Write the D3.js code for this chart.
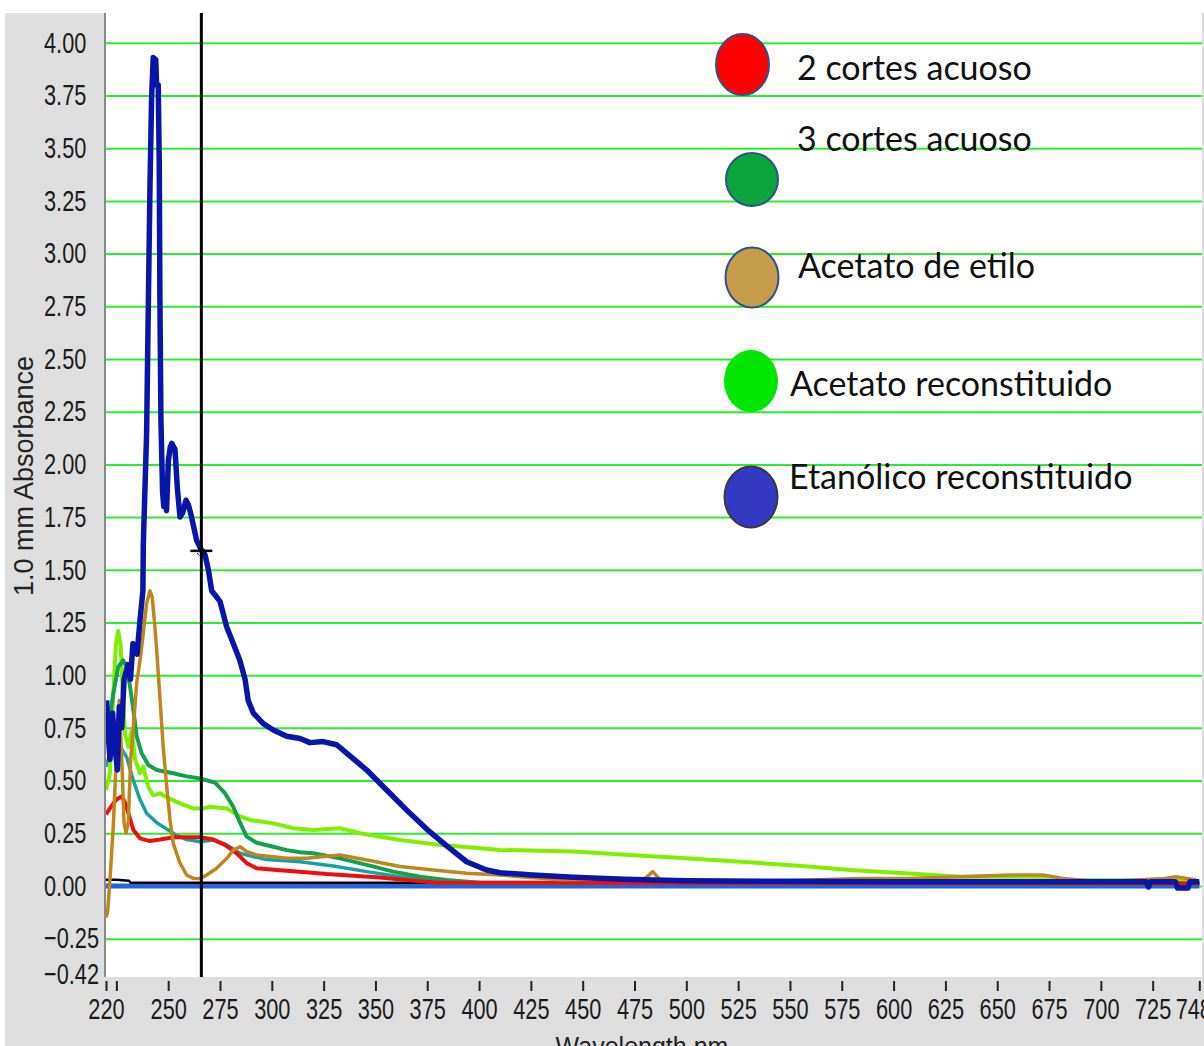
<!DOCTYPE html>
<html>
<head>
<meta charset="utf-8">
<script src="https://cdn.jsdelivr.net/npm/d3@7"></script>
<style>
  body { margin: 0; background: #fff; }
  svg { display: block; }
</style>
</head>
<body>
<div id="chart"></div>
<script>
// tick labels
let wavelengthTicks = [220, 225, 250, 275, 300, 325, 350, 375, 400, 425, 450, 475, 500, 525,
                       550, 575, 600, 625, 650, 675, 700, 725, 747.5];
let absorbanceTicks = [-0.42, -0.25, 0, 0.25, 0.5, 0.75, 1, 1.25, 1.5, 1.75, 2, 2.25, 2.5,
                       2.75, 3, 3.25, 3.5, 3.75, 4];
let gridValues = [-0.25, 0, 0.25, 0.5, 0.75, 1, 1.25, 1.5, 1.75, 2, 2.25, 2.5, 2.75, 3,
                  3.25, 3.5, 3.75, 4];

// spectra: [wavelength nm, absorbance]
let cortes2 = [[220,0.34],[222,0.37],[225,0.41],[227.6,0.424],[229,0.40],[230.8,0.345],[233.2,0.266],
  [236.4,0.226],[241.2,0.213],[246.1,0.22],[252.5,0.231],[265.4,0.231],[271.8,0.22],[277.4,0.195],
  [283.1,0.155],[287.9,0.108],[292.7,0.084],[302.4,0.076],[313.6,0.068],[326.5,0.057],[339.3,0.049],
  [352.2,0.04],[365.1,0.028],[380,0.015],[747.5,0.012]];

let tealTrace = [[220,0.566],[222,0.63],[224.3,0.68],[227,0.66],[230,0.61],[233.2,0.50],[236.4,0.41],
  [239.6,0.345],[244.5,0.30],[249.3,0.27],[254.1,0.24],[258.9,0.22],[265.4,0.21],[271.8,0.218],
  [278.2,0.195],[284.7,0.155],[291.1,0.139],[297.5,0.125],[313.6,0.115],[329.7,0.095],[345.8,0.068],
  [361.9,0.044],[377.9,0.028],[390.8,0.015],[747.5,0.012]];

let cortes3 = [[220,0.69],[223.5,0.91],[225.9,1.04],[228.3,1.07],[230,1.04],[231.6,0.945],[233.2,0.835],
  [234.8,0.71],[237.2,0.63],[240.4,0.574],[244.5,0.55],[252.5,0.535],[258.9,0.52],[265.4,0.51],
  [272.6,0.49],[277.4,0.44],[281.4,0.376],[284.7,0.30],[287.9,0.234],[292.7,0.205],[300.7,0.186],
  [307.2,0.17],[313.6,0.16],[320,0.155],[332.9,0.131],[345.8,0.10],[358.6,0.068],[371.5,0.044],
  [384.4,0.028],[400.5,0.015],[747.5,0.012]];

let acetatoEtilo = [[220,-0.15],[220.8,-0.12],[221.9,0.03],[223.5,0.28],[225.2,0.66],[226.4,0.88],
  [227.6,0.60],[228.7,0.30],[229.7,0.25],[230.8,0.31],[231.9,0.60],[233.2,0.756],[234.8,0.96],
  [236.4,1.07],[238,1.20],[239.6,1.34],[241.2,1.40],[242.3,1.37],[243.6,1.23],[244.8,1.07],
  [246.1,0.88],[247.6,0.66],[249.3,0.47],[250.9,0.313],[252.5,0.20],[255.7,0.108],[258.9,0.052],
  [262.1,0.036],[265.4,0.036],[268.6,0.052],[273.4,0.084],[278.2,0.13],[281.4,0.17],[284.7,0.186],
  [287.9,0.163],[292.7,0.147],[300.7,0.139],[307.2,0.131],[316.8,0.131],[332.9,0.147],[345.8,0.123],
  [361.9,0.092],[377.9,0.076],[394,0.06],[410.1,0.052],[439,0.03],[480,0.035],[483.8,0.068],
  [487.3,0.03],[530.8,0.02],[583.3,0.036],[608,0.036],[632.6,0.044],[657.2,0.052],[672.1,0.052],
  [681.8,0.036],[699.6,0.02],[731,0.036],[736.1,0.044],[746,0.028]];

let acetatoRec = [[220,0.455],[221.9,0.535],[223.5,0.91],[224.8,1.15],[225.9,1.21],[227.1,1.135],
  [228.1,0.91],[229.2,0.72],[230.8,0.66],[232.4,0.74],[234,0.6],[236.4,0.535],[238,0.566],
  [240.4,0.47],[242.8,0.43],[246.1,0.44],[249.3,0.42],[255.7,0.392],[262.1,0.368],[266.9,0.368],
  [270.2,0.376],[278.2,0.368],[284.7,0.33],[289.5,0.313],[300.7,0.297],[310.4,0.274],[320,0.266],
  [332.9,0.274],[342.6,0.25],[361.9,0.218],[381.2,0.195],[410.1,0.171],[445.6,0.163],[472.7,0.147],
  [499.7,0.131],[534.1,0.11],[558.7,0.092],[579,0.076],[611.2,0.057],[632.1,0.044],[675.5,0.044],
  [683.6,0.028],[746,0.025]];

let etanolicoRec = [[220.3,0.88],[221.1,0.72],[221.9,0.60],[223.2,0.82],[224.3,0.66],[225.5,0.55],
  [226.4,0.85],[227.6,0.75],[228.7,0.98],[230.6,1.05],[231.8,0.98],[233,1.15],[235,1.10],[236.4,1.26],
  [237.8,1.40],[238,1.62],[239.6,2.15],[240.4,2.74],[241.2,3.31],[242,3.74],[242.8,3.93],[244,3.92],
  [244.4,3.80],[245.2,3.80],[245.7,3.43],[246,2.80],[246.5,2.21],[247.3,1.87],[247.9,1.80],
  [248.5,1.85],[249.2,1.78],[250.1,2.02],[251,2.08],[251.7,2.10],[253.3,2.07],[254.4,1.89],
  [255.7,1.75],[257,1.77],[258.6,1.83],[259.7,1.81],[260.8,1.77],[262.4,1.70],[263.7,1.64],
  [266.2,1.59],[267.8,1.57],[269.4,1.50],[271,1.40],[272.6,1.38],[275,1.35],[278.2,1.23],
  [281.4,1.15],[284.6,1.07],[287.1,0.98],[288.6,0.88],[291.1,0.82],[295.9,0.77],[300.7,0.74],
  [307.2,0.71],[313.6,0.70],[318.4,0.68],[324.8,0.685],[331.3,0.67],[336.1,0.63],[345.8,0.55],
  [355.4,0.455],[365.1,0.36],[374.7,0.27],[384.4,0.19],[394,0.115],[403.6,0.076],[410.1,0.063],
  [425.8,0.052],[445.5,0.041],[470.1,0.032],[499.6,0.025],[544,0.022],[600,0.02],[722,0.02],
  [723,-0.005],[724,0.02],[736,0.02],[737,-0.01],[742,-0.01],[743,0.02],[747.5,0.02]];

let baselineBlack = [[220,0.03],[225,0.03],[231,0.025],[232,0.015],[747.5,0.015]];
let baselineBlue = [[220,0],[747.5,0]];

let cursorWavelength = 266;
let cursorValue = 1.585;

// legend
let legendLabels = ["2 cortes acuoso", "3 cortes acuoso", "Acetato de etilo",
                    "Acetato reconstituido", "Etanólico reconstituido"];
let legendFills = ["#ff0000", "#0aa63c", "#c59d48", "#00e600", "#3339c2"];

// ---- drawing ----
let width = 1204, height = 1046;
let plot = {left: 106, right: 1202, top: 13, bottom: 977};

let svg = d3.select("#chart").append("svg")
    .attr("width", width)
    .attr("height", height);

let xScale = d3.scaleLinear().domain([220, 747.5]).range([106, 1199.3]);
let yScale = d3.scaleLinear().domain([-0.42, 4]).range([974.5, 42.8]);

// grey frame and white plot area
svg.append("rect").attr("x", 5).attr("y", plot.top)
    .attr("width", width - 5).attr("height", height - plot.top).attr("fill", "#dedede");
svg.append("rect").attr("x", plot.left).attr("y", 0)
    .attr("width", plot.right - plot.left).attr("height", plot.bottom).attr("fill", "#fff");

svg.append("defs").append("clipPath").attr("id", "plotclip")
  .append("rect").attr("x", plot.left).attr("y", plot.top)
    .attr("width", plot.right - plot.left).attr("height", plot.bottom - plot.top);

// green grid
let grid = svg.append("g")
    .attr("transform", "translate(" + plot.left + ",0)")
    .call(d3.axisLeft(yScale).tickValues(gridValues).tickSize(-(plot.right - plot.left)).tickFormat(""));
grid.select(".domain").remove();
grid.selectAll("line").attr("stroke", "#2cef2c").attr("stroke-width", 2);

// left axis line
svg.append("line")
    .attr("x1", plot.left - 1).attr("x2", plot.left - 1)
    .attr("y1", plot.top).attr("y2", plot.bottom)
    .attr("stroke", "#8a8a8a").attr("stroke-width", 2);

// y labels (left aligned, narrow font)
let yAxis = svg.append("g")
    .call(d3.axisLeft(yScale).tickValues(absorbanceTicks).tickSize(0).tickFormat(d3.format(".2f")));
yAxis.select(".domain").remove();
yAxis.selectAll("text")
    .attr("x", 0)
    .attr("text-anchor", "start")
    .attr("transform", "translate(44,0) scale(0.75,1)")
    .style("font-family", "'Liberation Sans', Arial, sans-serif")
    .style("font-size", "29px")
    .attr("fill", "#1a1a1a");

// x axis
let xAxis = svg.append("g")
    .attr("transform", "translate(0," + (plot.bottom + 4) + ")")
    .call(d3.axisBottom(xScale).tickValues(wavelengthTicks).tickSize(10).tickPadding(7)
      .tickFormat(function(d) { return d === 225 ? "" : d3.format(".0f")(d); }));
xAxis.select(".domain").remove();
xAxis.selectAll("line").attr("stroke", "#222").attr("stroke-width", 2);
xAxis.selectAll("text")
    .attr("transform", function(d) { return d > 740 ? "translate(-6,0) scale(0.75,1)" : "scale(0.75,1)"; })
    .style("font-family", "'Liberation Sans', Arial, sans-serif")
    .style("font-size", "29px")
    .attr("fill", "#1a1a1a");

// axis titles
svg.append("text")
    .attr("transform", "translate(33,476) rotate(-90)")
    .attr("text-anchor", "middle")
    .style("font-family", "'Liberation Sans', Arial, sans-serif")
    .style("font-size", "27px")
    .attr("fill", "#222")
    .text("1.0 mm Absorbance");

svg.append("text")
    .attr("x", 642).attr("y", 1055)
    .attr("text-anchor", "middle")
    .style("font-family", "'Liberation Sans', Arial, sans-serif")
    .style("font-size", "25px")
    .attr("fill", "#222")
    .text("Wavelength nm");

// traces
let line = d3.line()
    .x(function(d) { return xScale(d[0]); })
    .y(function(d) { return yScale(d[1]); });

let traces = [
  {data: baselineBlue, color: "#2265e0", w: 5},
  {data: baselineBlack, color: "#000", w: 2.5},
  {data: tealTrace, color: "#17a2a2", w: 3.5},
  {data: acetatoRec, color: "#7df000", w: 4},
  {data: cortes3, color: "#14a04c", w: 4},
  {data: cortes2, color: "#f20d0d", w: 4},
  {data: acetatoEtilo, color: "#c0861c", w: 3.5},
  {data: etanolicoRec, color: "#0716a8", w: 5.5}
];

let traceG = svg.append("g").attr("clip-path", "url(#plotclip)");
traceG.selectAll(".trace")
  .data(traces)
  .enter()
  .append("path")
    .attr("class", "trace")
    .attr("d", function(d) { return line(d.data); })
    .attr("fill", "none")
    .attr("stroke", function(d) { return d.color; })
    .attr("stroke-width", function(d) { return d.w; })
    .attr("stroke-linejoin", "round");

// cursor line + marker
svg.append("line")
    .attr("x1", xScale(cursorWavelength)).attr("x2", xScale(cursorWavelength))
    .attr("y1", plot.top).attr("y2", plot.bottom)
    .attr("stroke", "#000").attr("stroke-width", 3);

let mx = xScale(cursorWavelength), my = yScale(cursorValue);
svg.append("line")
    .attr("x1", mx - 11).attr("x2", mx + 11).attr("y1", my - 1).attr("y2", my - 1)
    .attr("stroke", "#000").attr("stroke-width", 2.5);
svg.append("circle")
    .attr("cx", mx).attr("cy", my).attr("r", 4)
    .attr("fill", "none").attr("stroke", "#000").attr("stroke-width", 1)
    .attr("stroke-dasharray", "2,1");

// legend (hand placed like the original overlay)
let legendLayout = [
  {cx: 742.5, cy: 64.5, rx: 26.5, ry: 30.5, tx: 797, ty: 80, stroke: "#2f528f"},
  {cx: 752, cy: 179.5, rx: 26, ry: 26.5, tx: 797, ty: 151, stroke: "#2f528f"},
  {cx: 752, cy: 277.5, rx: 26.5, ry: 30, tx: 798, ty: 278, stroke: "#2f528f"},
  {cx: 751, cy: 381, rx: 27, ry: 31, tx: 790, ty: 396, stroke: "none"},
  {cx: 751, cy: 497, rx: 26.5, ry: 30.5, tx: 789, ty: 489, stroke: "#3a3a3a"}
];

let legend = svg.append("g");
legend.selectAll("ellipse")
  .data(legendLabels)
  .enter()
  .append("ellipse")
    .attr("cx", function(d, i) { return legendLayout[i].cx; })
    .attr("cy", function(d, i) { return legendLayout[i].cy; })
    .attr("rx", function(d, i) { return legendLayout[i].rx; })
    .attr("ry", function(d, i) { return legendLayout[i].ry; })
    .attr("fill", function(d, i) { return legendFills[i]; })
    .attr("stroke", function(d, i) { return legendLayout[i].stroke; })
    .attr("stroke-width", 2);

legend.selectAll("text")
  .data(legendLabels)
  .enter()
  .append("text")
    .attr("x", function(d, i) { return legendLayout[i].tx; })
    .attr("y", function(d, i) { return legendLayout[i].ty; })
    .style("font-family", "Lato, 'Open Sans', sans-serif")
    .style("font-size", "34px")
    .attr("fill", "#111")
    .text(function(d) { return d; });
</script>
</body>
</html>
